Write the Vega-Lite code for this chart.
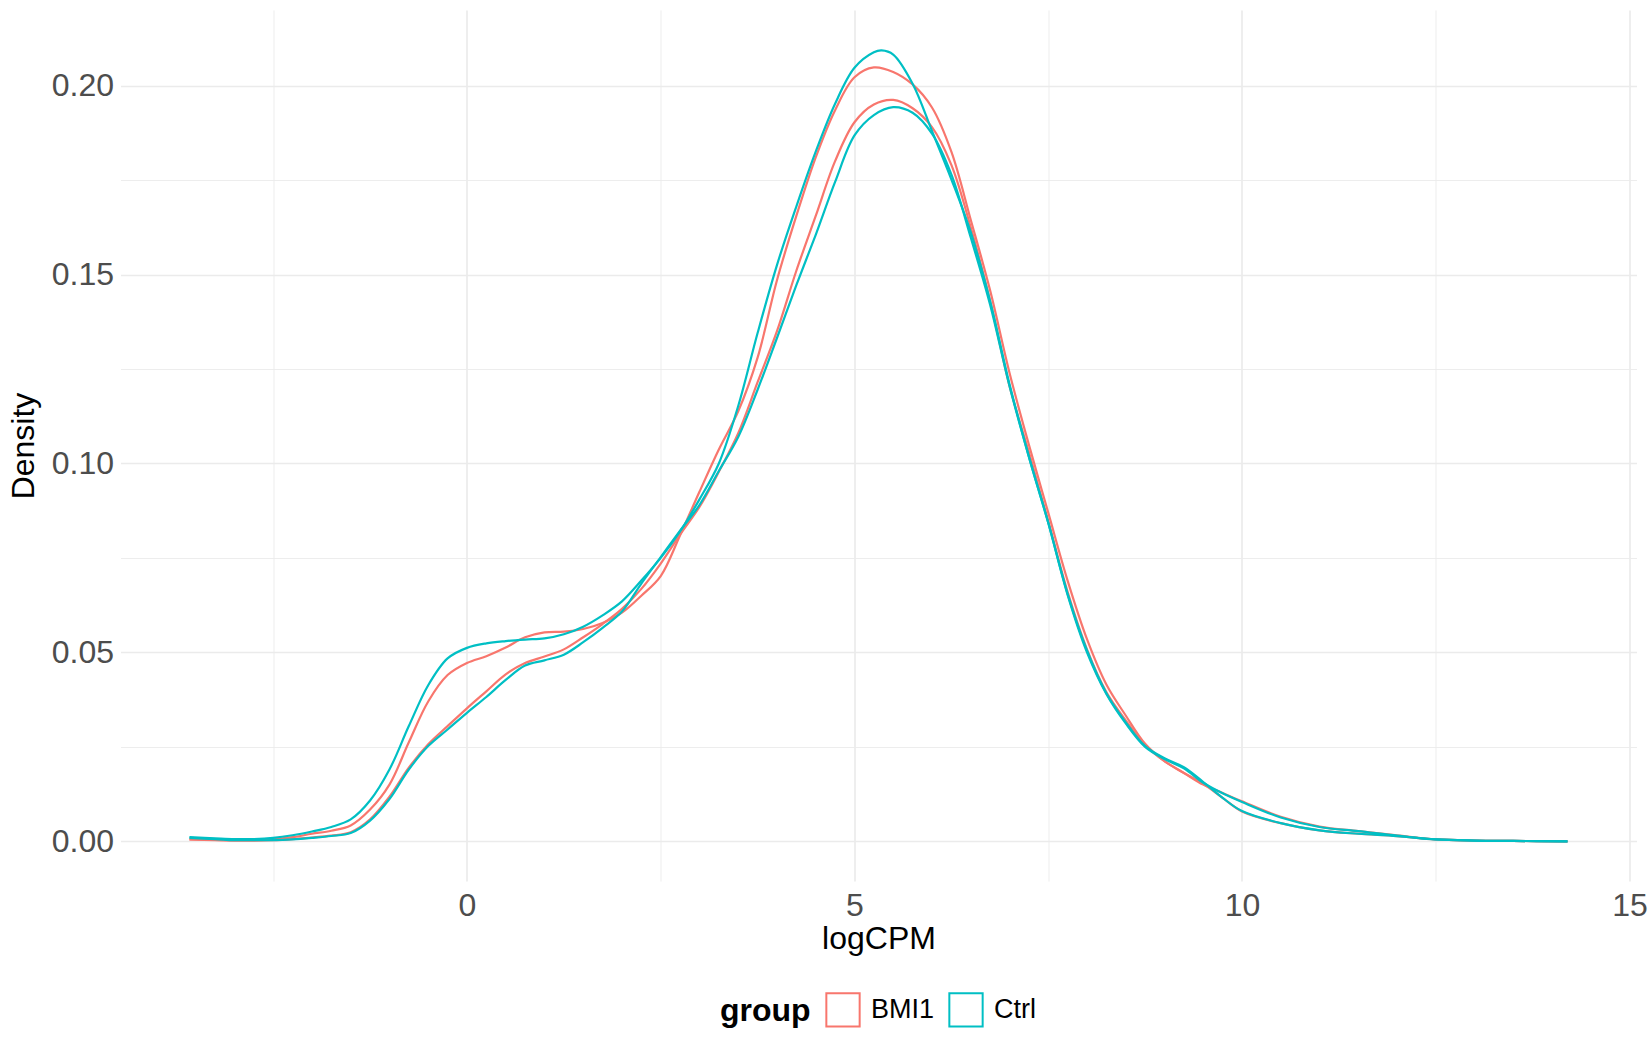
{
  "$schema": "https://vega.github.io/schema/vega-lite/v6.json",
  "width": 1516,
  "height": 871,
  "autosize": {"type": "none"},
  "padding": {"left": 120.5, "top": 10, "right": 13.5, "bottom": 169},
  "background": "white",
  "config": {"view": {"stroke": null}, "font": "Liberation Sans"},
  "datasets": {
    "curves": [
      {"sample": "BMI1_1", "group": "BMI1", "logCPM": -3.58, "density": 0.0005},
      {"sample": "BMI1_1", "group": "BMI1", "logCPM": -3.25, "density": 0.0004},
      {"sample": "BMI1_1", "group": "BMI1", "logCPM": -3, "density": 0.0003},
      {"sample": "BMI1_1", "group": "BMI1", "logCPM": -2.75, "density": 0.0003},
      {"sample": "BMI1_1", "group": "BMI1", "logCPM": -2.5, "density": 0.0005},
      {"sample": "BMI1_1", "group": "BMI1", "logCPM": -2.25, "density": 0.0011},
      {"sample": "BMI1_1", "group": "BMI1", "logCPM": -2, "density": 0.002},
      {"sample": "BMI1_1", "group": "BMI1", "logCPM": -1.75, "density": 0.0028},
      {"sample": "BMI1_1", "group": "BMI1", "logCPM": -1.5, "density": 0.0042},
      {"sample": "BMI1_1", "group": "BMI1", "logCPM": -1.25, "density": 0.0084},
      {"sample": "BMI1_1", "group": "BMI1", "logCPM": -1, "density": 0.015},
      {"sample": "BMI1_1", "group": "BMI1", "logCPM": -0.75, "density": 0.0262},
      {"sample": "BMI1_1", "group": "BMI1", "logCPM": -0.5, "density": 0.037},
      {"sample": "BMI1_1", "group": "BMI1", "logCPM": -0.25, "density": 0.044},
      {"sample": "BMI1_1", "group": "BMI1", "logCPM": 0, "density": 0.0472},
      {"sample": "BMI1_1", "group": "BMI1", "logCPM": 0.25, "density": 0.049},
      {"sample": "BMI1_1", "group": "BMI1", "logCPM": 0.5, "density": 0.0513},
      {"sample": "BMI1_1", "group": "BMI1", "logCPM": 0.75, "density": 0.054},
      {"sample": "BMI1_1", "group": "BMI1", "logCPM": 1, "density": 0.0553},
      {"sample": "BMI1_1", "group": "BMI1", "logCPM": 1.25, "density": 0.0555},
      {"sample": "BMI1_1", "group": "BMI1", "logCPM": 1.5, "density": 0.0562},
      {"sample": "BMI1_1", "group": "BMI1", "logCPM": 1.75, "density": 0.0578},
      {"sample": "BMI1_1", "group": "BMI1", "logCPM": 2, "density": 0.0605},
      {"sample": "BMI1_1", "group": "BMI1", "logCPM": 2.25, "density": 0.065},
      {"sample": "BMI1_1", "group": "BMI1", "logCPM": 2.5, "density": 0.0702},
      {"sample": "BMI1_1", "group": "BMI1", "logCPM": 2.75, "density": 0.081},
      {"sample": "BMI1_1", "group": "BMI1", "logCPM": 3, "density": 0.0925},
      {"sample": "BMI1_1", "group": "BMI1", "logCPM": 3.25, "density": 0.1037},
      {"sample": "BMI1_1", "group": "BMI1", "logCPM": 3.5, "density": 0.1138},
      {"sample": "BMI1_1", "group": "BMI1", "logCPM": 3.75, "density": 0.128},
      {"sample": "BMI1_1", "group": "BMI1", "logCPM": 4, "density": 0.1485},
      {"sample": "BMI1_1", "group": "BMI1", "logCPM": 4.25, "density": 0.1655},
      {"sample": "BMI1_1", "group": "BMI1", "logCPM": 4.5, "density": 0.181},
      {"sample": "BMI1_1", "group": "BMI1", "logCPM": 4.75, "density": 0.1935},
      {"sample": "BMI1_1", "group": "BMI1", "logCPM": 5, "density": 0.2022},
      {"sample": "BMI1_1", "group": "BMI1", "logCPM": 5.25, "density": 0.2048},
      {"sample": "BMI1_1", "group": "BMI1", "logCPM": 5.5, "density": 0.2036},
      {"sample": "BMI1_1", "group": "BMI1", "logCPM": 5.75, "density": 0.2003},
      {"sample": "BMI1_1", "group": "BMI1", "logCPM": 6, "density": 0.1942},
      {"sample": "BMI1_1", "group": "BMI1", "logCPM": 6.25, "density": 0.1825},
      {"sample": "BMI1_1", "group": "BMI1", "logCPM": 6.5, "density": 0.1645},
      {"sample": "BMI1_1", "group": "BMI1", "logCPM": 6.75, "density": 0.1458},
      {"sample": "BMI1_1", "group": "BMI1", "logCPM": 7, "density": 0.124},
      {"sample": "BMI1_1", "group": "BMI1", "logCPM": 7.25, "density": 0.105},
      {"sample": "BMI1_1", "group": "BMI1", "logCPM": 7.5, "density": 0.087},
      {"sample": "BMI1_1", "group": "BMI1", "logCPM": 7.75, "density": 0.069},
      {"sample": "BMI1_1", "group": "BMI1", "logCPM": 8, "density": 0.0535},
      {"sample": "BMI1_1", "group": "BMI1", "logCPM": 8.25, "density": 0.0415},
      {"sample": "BMI1_1", "group": "BMI1", "logCPM": 8.5, "density": 0.0333},
      {"sample": "BMI1_1", "group": "BMI1", "logCPM": 8.75, "density": 0.0258},
      {"sample": "BMI1_1", "group": "BMI1", "logCPM": 9, "density": 0.0212},
      {"sample": "BMI1_1", "group": "BMI1", "logCPM": 9.25, "density": 0.0181},
      {"sample": "BMI1_1", "group": "BMI1", "logCPM": 9.5, "density": 0.015},
      {"sample": "BMI1_1", "group": "BMI1", "logCPM": 9.75, "density": 0.0128},
      {"sample": "BMI1_1", "group": "BMI1", "logCPM": 10, "density": 0.0106},
      {"sample": "BMI1_1", "group": "BMI1", "logCPM": 10.5, "density": 0.0065},
      {"sample": "BMI1_1", "group": "BMI1", "logCPM": 11, "density": 0.0039},
      {"sample": "BMI1_1", "group": "BMI1", "logCPM": 11.5, "density": 0.0027},
      {"sample": "BMI1_1", "group": "BMI1", "logCPM": 12, "density": 0.0016},
      {"sample": "BMI1_1", "group": "BMI1", "logCPM": 12.5, "density": 0.0005},
      {"sample": "BMI1_1", "group": "BMI1", "logCPM": 13, "density": 0.0002},
      {"sample": "BMI1_1", "group": "BMI1", "logCPM": 13.5, "density": 0.0001},
      {"sample": "BMI1_1", "group": "BMI1", "logCPM": 14.2, "density": 0},
      {"sample": "BMI1_2", "group": "BMI1", "logCPM": -3.58, "density": 0.0005},
      {"sample": "BMI1_2", "group": "BMI1", "logCPM": -3.25, "density": 0.0003},
      {"sample": "BMI1_2", "group": "BMI1", "logCPM": -3, "density": 0.0002},
      {"sample": "BMI1_2", "group": "BMI1", "logCPM": -2.75, "density": 0.0002},
      {"sample": "BMI1_2", "group": "BMI1", "logCPM": -2.5, "density": 0.0003},
      {"sample": "BMI1_2", "group": "BMI1", "logCPM": -2.25, "density": 0.0006},
      {"sample": "BMI1_2", "group": "BMI1", "logCPM": -2, "density": 0.001},
      {"sample": "BMI1_2", "group": "BMI1", "logCPM": -1.75, "density": 0.0015},
      {"sample": "BMI1_2", "group": "BMI1", "logCPM": -1.5, "density": 0.0024},
      {"sample": "BMI1_2", "group": "BMI1", "logCPM": -1.25, "density": 0.0058},
      {"sample": "BMI1_2", "group": "BMI1", "logCPM": -1, "density": 0.0118},
      {"sample": "BMI1_2", "group": "BMI1", "logCPM": -0.75, "density": 0.0195},
      {"sample": "BMI1_2", "group": "BMI1", "logCPM": -0.5, "density": 0.0257},
      {"sample": "BMI1_2", "group": "BMI1", "logCPM": -0.25, "density": 0.0305},
      {"sample": "BMI1_2", "group": "BMI1", "logCPM": 0, "density": 0.0352},
      {"sample": "BMI1_2", "group": "BMI1", "logCPM": 0.25, "density": 0.0397},
      {"sample": "BMI1_2", "group": "BMI1", "logCPM": 0.5, "density": 0.0442},
      {"sample": "BMI1_2", "group": "BMI1", "logCPM": 0.75, "density": 0.0472},
      {"sample": "BMI1_2", "group": "BMI1", "logCPM": 1, "density": 0.0489},
      {"sample": "BMI1_2", "group": "BMI1", "logCPM": 1.25, "density": 0.0508},
      {"sample": "BMI1_2", "group": "BMI1", "logCPM": 1.5, "density": 0.054},
      {"sample": "BMI1_2", "group": "BMI1", "logCPM": 1.75, "density": 0.0575},
      {"sample": "BMI1_2", "group": "BMI1", "logCPM": 2, "density": 0.0615},
      {"sample": "BMI1_2", "group": "BMI1", "logCPM": 2.25, "density": 0.0668},
      {"sample": "BMI1_2", "group": "BMI1", "logCPM": 2.5, "density": 0.0735},
      {"sample": "BMI1_2", "group": "BMI1", "logCPM": 2.75, "density": 0.0812},
      {"sample": "BMI1_2", "group": "BMI1", "logCPM": 3, "density": 0.0885},
      {"sample": "BMI1_2", "group": "BMI1", "logCPM": 3.25, "density": 0.0978},
      {"sample": "BMI1_2", "group": "BMI1", "logCPM": 3.5, "density": 0.108},
      {"sample": "BMI1_2", "group": "BMI1", "logCPM": 3.75, "density": 0.1215},
      {"sample": "BMI1_2", "group": "BMI1", "logCPM": 4, "density": 0.135},
      {"sample": "BMI1_2", "group": "BMI1", "logCPM": 4.25, "density": 0.151},
      {"sample": "BMI1_2", "group": "BMI1", "logCPM": 4.5, "density": 0.1655},
      {"sample": "BMI1_2", "group": "BMI1", "logCPM": 4.75, "density": 0.18},
      {"sample": "BMI1_2", "group": "BMI1", "logCPM": 5, "density": 0.1903},
      {"sample": "BMI1_2", "group": "BMI1", "logCPM": 5.25, "density": 0.195},
      {"sample": "BMI1_2", "group": "BMI1", "logCPM": 5.5, "density": 0.1962},
      {"sample": "BMI1_2", "group": "BMI1", "logCPM": 5.75, "density": 0.194},
      {"sample": "BMI1_2", "group": "BMI1", "logCPM": 6, "density": 0.189},
      {"sample": "BMI1_2", "group": "BMI1", "logCPM": 6.25, "density": 0.179},
      {"sample": "BMI1_2", "group": "BMI1", "logCPM": 6.5, "density": 0.1625},
      {"sample": "BMI1_2", "group": "BMI1", "logCPM": 6.75, "density": 0.143},
      {"sample": "BMI1_2", "group": "BMI1", "logCPM": 7, "density": 0.1205},
      {"sample": "BMI1_2", "group": "BMI1", "logCPM": 7.25, "density": 0.103},
      {"sample": "BMI1_2", "group": "BMI1", "logCPM": 7.5, "density": 0.0848},
      {"sample": "BMI1_2", "group": "BMI1", "logCPM": 7.75, "density": 0.066},
      {"sample": "BMI1_2", "group": "BMI1", "logCPM": 8, "density": 0.0508},
      {"sample": "BMI1_2", "group": "BMI1", "logCPM": 8.25, "density": 0.0395},
      {"sample": "BMI1_2", "group": "BMI1", "logCPM": 8.5, "density": 0.032},
      {"sample": "BMI1_2", "group": "BMI1", "logCPM": 8.75, "density": 0.0255},
      {"sample": "BMI1_2", "group": "BMI1", "logCPM": 9, "density": 0.0212},
      {"sample": "BMI1_2", "group": "BMI1", "logCPM": 9.25, "density": 0.0181},
      {"sample": "BMI1_2", "group": "BMI1", "logCPM": 9.5, "density": 0.0152},
      {"sample": "BMI1_2", "group": "BMI1", "logCPM": 9.75, "density": 0.0115},
      {"sample": "BMI1_2", "group": "BMI1", "logCPM": 10, "density": 0.0079},
      {"sample": "BMI1_2", "group": "BMI1", "logCPM": 10.5, "density": 0.0048},
      {"sample": "BMI1_2", "group": "BMI1", "logCPM": 11, "density": 0.0029},
      {"sample": "BMI1_2", "group": "BMI1", "logCPM": 11.5, "density": 0.002},
      {"sample": "BMI1_2", "group": "BMI1", "logCPM": 12, "density": 0.0014},
      {"sample": "BMI1_2", "group": "BMI1", "logCPM": 12.5, "density": 0.0005},
      {"sample": "BMI1_2", "group": "BMI1", "logCPM": 13, "density": 0.0002},
      {"sample": "BMI1_2", "group": "BMI1", "logCPM": 13.5, "density": 0.0001},
      {"sample": "BMI1_2", "group": "BMI1", "logCPM": 14.2, "density": 0},
      {"sample": "Ctrl_1", "group": "Ctrl", "logCPM": -3.58, "density": 0.0011},
      {"sample": "Ctrl_1", "group": "Ctrl", "logCPM": -3.25, "density": 0.0008},
      {"sample": "Ctrl_1", "group": "Ctrl", "logCPM": -3, "density": 0.0006},
      {"sample": "Ctrl_1", "group": "Ctrl", "logCPM": -2.75, "density": 0.0006},
      {"sample": "Ctrl_1", "group": "Ctrl", "logCPM": -2.5, "density": 0.0009},
      {"sample": "Ctrl_1", "group": "Ctrl", "logCPM": -2.25, "density": 0.0016},
      {"sample": "Ctrl_1", "group": "Ctrl", "logCPM": -2, "density": 0.0026},
      {"sample": "Ctrl_1", "group": "Ctrl", "logCPM": -1.75, "density": 0.0038},
      {"sample": "Ctrl_1", "group": "Ctrl", "logCPM": -1.5, "density": 0.0058},
      {"sample": "Ctrl_1", "group": "Ctrl", "logCPM": -1.25, "density": 0.0108},
      {"sample": "Ctrl_1", "group": "Ctrl", "logCPM": -1, "density": 0.019},
      {"sample": "Ctrl_1", "group": "Ctrl", "logCPM": -0.75, "density": 0.0305},
      {"sample": "Ctrl_1", "group": "Ctrl", "logCPM": -0.5, "density": 0.0413},
      {"sample": "Ctrl_1", "group": "Ctrl", "logCPM": -0.25, "density": 0.0484},
      {"sample": "Ctrl_1", "group": "Ctrl", "logCPM": 0, "density": 0.0512},
      {"sample": "Ctrl_1", "group": "Ctrl", "logCPM": 0.25, "density": 0.0524},
      {"sample": "Ctrl_1", "group": "Ctrl", "logCPM": 0.5, "density": 0.053},
      {"sample": "Ctrl_1", "group": "Ctrl", "logCPM": 0.75, "density": 0.0534},
      {"sample": "Ctrl_1", "group": "Ctrl", "logCPM": 1, "density": 0.0537},
      {"sample": "Ctrl_1", "group": "Ctrl", "logCPM": 1.25, "density": 0.0548},
      {"sample": "Ctrl_1", "group": "Ctrl", "logCPM": 1.5, "density": 0.0568},
      {"sample": "Ctrl_1", "group": "Ctrl", "logCPM": 1.75, "density": 0.0598},
      {"sample": "Ctrl_1", "group": "Ctrl", "logCPM": 2, "density": 0.0635},
      {"sample": "Ctrl_1", "group": "Ctrl", "logCPM": 2.25, "density": 0.069},
      {"sample": "Ctrl_1", "group": "Ctrl", "logCPM": 2.5, "density": 0.075},
      {"sample": "Ctrl_1", "group": "Ctrl", "logCPM": 2.75, "density": 0.082},
      {"sample": "Ctrl_1", "group": "Ctrl", "logCPM": 3, "density": 0.0905},
      {"sample": "Ctrl_1", "group": "Ctrl", "logCPM": 3.25, "density": 0.1},
      {"sample": "Ctrl_1", "group": "Ctrl", "logCPM": 3.5, "density": 0.1152},
      {"sample": "Ctrl_1", "group": "Ctrl", "logCPM": 3.75, "density": 0.1345},
      {"sample": "Ctrl_1", "group": "Ctrl", "logCPM": 4, "density": 0.1525},
      {"sample": "Ctrl_1", "group": "Ctrl", "logCPM": 4.25, "density": 0.168},
      {"sample": "Ctrl_1", "group": "Ctrl", "logCPM": 4.5, "density": 0.1825},
      {"sample": "Ctrl_1", "group": "Ctrl", "logCPM": 4.75, "density": 0.1952},
      {"sample": "Ctrl_1", "group": "Ctrl", "logCPM": 5, "density": 0.2047},
      {"sample": "Ctrl_1", "group": "Ctrl", "logCPM": 5.25, "density": 0.2088},
      {"sample": "Ctrl_1", "group": "Ctrl", "logCPM": 5.35, "density": 0.2093},
      {"sample": "Ctrl_1", "group": "Ctrl", "logCPM": 5.5, "density": 0.2082},
      {"sample": "Ctrl_1", "group": "Ctrl", "logCPM": 5.75, "density": 0.2005},
      {"sample": "Ctrl_1", "group": "Ctrl", "logCPM": 6, "density": 0.188},
      {"sample": "Ctrl_1", "group": "Ctrl", "logCPM": 6.25, "density": 0.1752},
      {"sample": "Ctrl_1", "group": "Ctrl", "logCPM": 6.5, "density": 0.1612},
      {"sample": "Ctrl_1", "group": "Ctrl", "logCPM": 6.75, "density": 0.143},
      {"sample": "Ctrl_1", "group": "Ctrl", "logCPM": 7, "density": 0.121},
      {"sample": "Ctrl_1", "group": "Ctrl", "logCPM": 7.25, "density": 0.1018},
      {"sample": "Ctrl_1", "group": "Ctrl", "logCPM": 7.5, "density": 0.0843},
      {"sample": "Ctrl_1", "group": "Ctrl", "logCPM": 7.75, "density": 0.0655},
      {"sample": "Ctrl_1", "group": "Ctrl", "logCPM": 8, "density": 0.0505},
      {"sample": "Ctrl_1", "group": "Ctrl", "logCPM": 8.25, "density": 0.0392},
      {"sample": "Ctrl_1", "group": "Ctrl", "logCPM": 8.5, "density": 0.0315},
      {"sample": "Ctrl_1", "group": "Ctrl", "logCPM": 8.75, "density": 0.0252},
      {"sample": "Ctrl_1", "group": "Ctrl", "logCPM": 9, "density": 0.022},
      {"sample": "Ctrl_1", "group": "Ctrl", "logCPM": 9.25, "density": 0.0196},
      {"sample": "Ctrl_1", "group": "Ctrl", "logCPM": 9.5, "density": 0.0157},
      {"sample": "Ctrl_1", "group": "Ctrl", "logCPM": 9.75, "density": 0.0115},
      {"sample": "Ctrl_1", "group": "Ctrl", "logCPM": 10, "density": 0.008},
      {"sample": "Ctrl_1", "group": "Ctrl", "logCPM": 10.5, "density": 0.0048},
      {"sample": "Ctrl_1", "group": "Ctrl", "logCPM": 11, "density": 0.0029},
      {"sample": "Ctrl_1", "group": "Ctrl", "logCPM": 11.5, "density": 0.002},
      {"sample": "Ctrl_1", "group": "Ctrl", "logCPM": 12, "density": 0.0014},
      {"sample": "Ctrl_1", "group": "Ctrl", "logCPM": 12.5, "density": 0.0005},
      {"sample": "Ctrl_1", "group": "Ctrl", "logCPM": 13, "density": 0.0002},
      {"sample": "Ctrl_1", "group": "Ctrl", "logCPM": 13.5, "density": 0.0001},
      {"sample": "Ctrl_1", "group": "Ctrl", "logCPM": 14.2, "density": 0},
      {"sample": "Ctrl_2", "group": "Ctrl", "logCPM": -3.58, "density": 0.0009},
      {"sample": "Ctrl_2", "group": "Ctrl", "logCPM": -3.25, "density": 0.0006},
      {"sample": "Ctrl_2", "group": "Ctrl", "logCPM": -3, "density": 0.0003},
      {"sample": "Ctrl_2", "group": "Ctrl", "logCPM": -2.75, "density": 0.0003},
      {"sample": "Ctrl_2", "group": "Ctrl", "logCPM": -2.5, "density": 0.0003},
      {"sample": "Ctrl_2", "group": "Ctrl", "logCPM": -2.25, "density": 0.0005},
      {"sample": "Ctrl_2", "group": "Ctrl", "logCPM": -2, "density": 0.0009},
      {"sample": "Ctrl_2", "group": "Ctrl", "logCPM": -1.75, "density": 0.0014},
      {"sample": "Ctrl_2", "group": "Ctrl", "logCPM": -1.5, "density": 0.0022},
      {"sample": "Ctrl_2", "group": "Ctrl", "logCPM": -1.25, "density": 0.0055},
      {"sample": "Ctrl_2", "group": "Ctrl", "logCPM": -1, "density": 0.0112},
      {"sample": "Ctrl_2", "group": "Ctrl", "logCPM": -0.75, "density": 0.019},
      {"sample": "Ctrl_2", "group": "Ctrl", "logCPM": -0.5, "density": 0.0252},
      {"sample": "Ctrl_2", "group": "Ctrl", "logCPM": -0.25, "density": 0.0296},
      {"sample": "Ctrl_2", "group": "Ctrl", "logCPM": 0, "density": 0.034},
      {"sample": "Ctrl_2", "group": "Ctrl", "logCPM": 0.25, "density": 0.0382},
      {"sample": "Ctrl_2", "group": "Ctrl", "logCPM": 0.5, "density": 0.0427},
      {"sample": "Ctrl_2", "group": "Ctrl", "logCPM": 0.75, "density": 0.0465},
      {"sample": "Ctrl_2", "group": "Ctrl", "logCPM": 1, "density": 0.0479},
      {"sample": "Ctrl_2", "group": "Ctrl", "logCPM": 1.25, "density": 0.0494},
      {"sample": "Ctrl_2", "group": "Ctrl", "logCPM": 1.5, "density": 0.0527},
      {"sample": "Ctrl_2", "group": "Ctrl", "logCPM": 1.75, "density": 0.0565},
      {"sample": "Ctrl_2", "group": "Ctrl", "logCPM": 2, "density": 0.0608},
      {"sample": "Ctrl_2", "group": "Ctrl", "logCPM": 2.25, "density": 0.0682},
      {"sample": "Ctrl_2", "group": "Ctrl", "logCPM": 2.5, "density": 0.0752},
      {"sample": "Ctrl_2", "group": "Ctrl", "logCPM": 2.75, "density": 0.0822},
      {"sample": "Ctrl_2", "group": "Ctrl", "logCPM": 3, "density": 0.089},
      {"sample": "Ctrl_2", "group": "Ctrl", "logCPM": 3.25, "density": 0.098},
      {"sample": "Ctrl_2", "group": "Ctrl", "logCPM": 3.5, "density": 0.107},
      {"sample": "Ctrl_2", "group": "Ctrl", "logCPM": 3.75, "density": 0.1195},
      {"sample": "Ctrl_2", "group": "Ctrl", "logCPM": 4, "density": 0.1332},
      {"sample": "Ctrl_2", "group": "Ctrl", "logCPM": 4.25, "density": 0.1472},
      {"sample": "Ctrl_2", "group": "Ctrl", "logCPM": 4.5, "density": 0.1605},
      {"sample": "Ctrl_2", "group": "Ctrl", "logCPM": 4.75, "density": 0.1745},
      {"sample": "Ctrl_2", "group": "Ctrl", "logCPM": 5, "density": 0.1868},
      {"sample": "Ctrl_2", "group": "Ctrl", "logCPM": 5.25, "density": 0.1922},
      {"sample": "Ctrl_2", "group": "Ctrl", "logCPM": 5.5, "density": 0.1943},
      {"sample": "Ctrl_2", "group": "Ctrl", "logCPM": 5.75, "density": 0.1928},
      {"sample": "Ctrl_2", "group": "Ctrl", "logCPM": 6, "density": 0.1873},
      {"sample": "Ctrl_2", "group": "Ctrl", "logCPM": 6.25, "density": 0.1765},
      {"sample": "Ctrl_2", "group": "Ctrl", "logCPM": 6.5, "density": 0.1598},
      {"sample": "Ctrl_2", "group": "Ctrl", "logCPM": 6.75, "density": 0.142},
      {"sample": "Ctrl_2", "group": "Ctrl", "logCPM": 7, "density": 0.1205},
      {"sample": "Ctrl_2", "group": "Ctrl", "logCPM": 7.25, "density": 0.1018},
      {"sample": "Ctrl_2", "group": "Ctrl", "logCPM": 7.5, "density": 0.0843},
      {"sample": "Ctrl_2", "group": "Ctrl", "logCPM": 7.75, "density": 0.0652},
      {"sample": "Ctrl_2", "group": "Ctrl", "logCPM": 8, "density": 0.05},
      {"sample": "Ctrl_2", "group": "Ctrl", "logCPM": 8.25, "density": 0.039},
      {"sample": "Ctrl_2", "group": "Ctrl", "logCPM": 8.5, "density": 0.0312},
      {"sample": "Ctrl_2", "group": "Ctrl", "logCPM": 8.75, "density": 0.025},
      {"sample": "Ctrl_2", "group": "Ctrl", "logCPM": 9, "density": 0.0218},
      {"sample": "Ctrl_2", "group": "Ctrl", "logCPM": 9.25, "density": 0.0193},
      {"sample": "Ctrl_2", "group": "Ctrl", "logCPM": 9.5, "density": 0.0155},
      {"sample": "Ctrl_2", "group": "Ctrl", "logCPM": 9.75, "density": 0.0127},
      {"sample": "Ctrl_2", "group": "Ctrl", "logCPM": 10, "density": 0.0104},
      {"sample": "Ctrl_2", "group": "Ctrl", "logCPM": 10.5, "density": 0.0063},
      {"sample": "Ctrl_2", "group": "Ctrl", "logCPM": 11, "density": 0.0038},
      {"sample": "Ctrl_2", "group": "Ctrl", "logCPM": 11.5, "density": 0.0027},
      {"sample": "Ctrl_2", "group": "Ctrl", "logCPM": 12, "density": 0.0015},
      {"sample": "Ctrl_2", "group": "Ctrl", "logCPM": 12.5, "density": 0.0005},
      {"sample": "Ctrl_2", "group": "Ctrl", "logCPM": 13, "density": 0.0002},
      {"sample": "Ctrl_2", "group": "Ctrl", "logCPM": 13.5, "density": 0.0001},
      {"sample": "Ctrl_2", "group": "Ctrl", "logCPM": 14.2, "density": 0}
    ]
  },
  "data": {"name": "curves"},
  "mark": {"type": "line", "interpolate": "catmull-rom", "strokeWidth": 2.2},
  "encoding": {
    "x": {
      "field": "logCPM",
      "type": "quantitative",
      "scale": {"domain": [-4.47, 15.09], "nice": false, "zero": false},
      "axis": {
        "title": "logCPM",
        "values": [-2.5, 0, 2.5, 5, 7.5, 10, 12.5, 15],
        "format": "~g",
        "labelExpr": "datum.value % 5 === 0 ? datum.label : ''",
        "domain": false,
        "ticks": false,
        "tickSize": 0,
        "grid": true,
        "gridColor": "#EBEBEB",
        "gridWidth": {"condition": {"test": "datum.value % 5 !== 0", "value": 0.9}, "value": 1.7},
        "labelFont": "Liberation Sans",
        "labelFontSize": 32,
        "labelColor": "#4D4D4D",
        "labelBaseline": "alphabetic",
        "labelPadding": 34,
        "labelFlush": false,
        "labelOverlap": false,
        "titleFont": "Liberation Sans",
        "titleFontSize": 32,
        "titleFontWeight": "normal",
        "titleColor": "#000000",
        "titleX": 758,
        "titleY": 67,
        "titleBaseline": "alphabetic",
        "titleAlign": "center"
      }
    },
    "y": {
      "field": "density",
      "type": "quantitative",
      "scale": {"domain": [-0.0105, 0.22], "nice": false, "zero": false},
      "axis": {
        "title": "Density",
        "values": [0, 0.025, 0.05, 0.075, 0.1, 0.125, 0.15, 0.175, 0.2],
        "format": ".2f",
        "labelExpr": "abs(datum.value * 20 - round(datum.value * 20)) < 0.001 ? datum.label : ''",
        "domain": false,
        "ticks": false,
        "tickSize": 0,
        "grid": true,
        "gridColor": "#EBEBEB",
        "gridWidth": {"condition": {"test": "abs(datum.value * 20 - round(datum.value * 20)) > 0.001", "value": 0.9}, "value": 1.7},
        "labelFont": "Liberation Sans",
        "labelFontSize": 32,
        "labelColor": "#4D4D4D",
        "labelPadding": 7,
        "labelOverlap": false,
        "titleFont": "Liberation Sans",
        "titleFontSize": 32,
        "titleFontWeight": "normal",
        "titleColor": "#000000",
        "titleAngle": -90,
        "titleX": -87,
        "titleY": 435.5,
        "titleBaseline": "alphabetic",
        "titleAlign": "center"
      }
    },
    "color": {
      "field": "group",
      "type": "nominal",
      "scale": {"domain": ["BMI1", "Ctrl"], "range": ["#F8766D", "#00BFC4"]},
      "legend": {
        "title": "group",
        "orient": "none",
        "legendX": 599.5,
        "legendY": 981.7,
        "direction": "horizontal",
        "padding": 0,
        "titleOrient": "left",
        "titleFont": "Liberation Sans",
        "titleFontSize": 32,
        "titleFontWeight": "bold",
        "titleColor": "#000000",
        "titlePadding": 14,
        "labelFont": "Liberation Sans",
        "labelFontSize": 27,
        "labelColor": "#000000",
        "labelOffset": 10,
        "columnPadding": 10,
        "symbolType": "square",
        "symbolSize": 1110,
        "symbolStrokeWidth": 2,
        "symbolFillColor": "transparent"
      }
    },
    "detail": {"field": "sample", "type": "nominal"}
  }
}
